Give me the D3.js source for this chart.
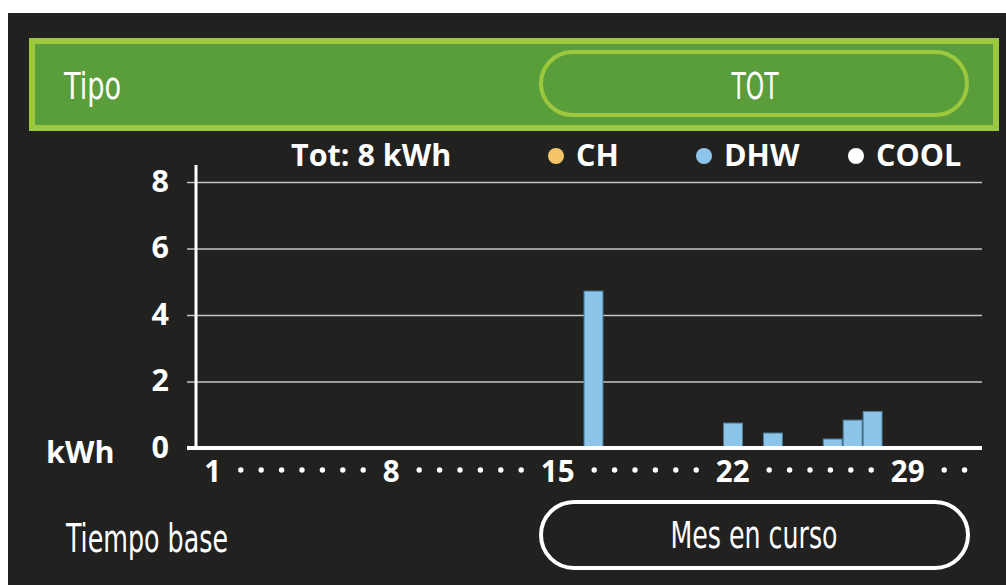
<!DOCTYPE html>
<html>
<head>
<meta charset="utf-8">
<script src="https://cdn.jsdelivr.net/npm/d3@7"></script>
<style>
  body { margin: 0; background: #ffffff; }
  .bold { font-family: 'Open Sans', sans-serif; font-weight: 700; fill: #ffffff; }
  .narrow { font-family: 'Liberation Sans Narrow', 'DejaVu Sans Condensed', sans-serif; fill: #ffffff; }
</style>
</head>
<body>
<div id="container"></div>
<script>
// data
var days = d3.range(1, 32);
var chValues   = [0,0,0,0,0,0,0,0,0,0,0,0,0,0,0,0,0,0,0,0,0,0,0,0,0,0,0,0,0,0,0];
var dhwValues  = [0,0,0,0,0,0,0,0,0,0,0,0,0,0,0,4.72,0,0,0,0,0,0,0.75,0,0.45,0,0,0.27,0.84,1.1,0];
var coolValues = [0,0,0,0,0,0,0,0,0,0,0,0,0,0,0,0,0,0,0,0,0,0,0,0,0,0,0,0,0,0,0];
var seriesNames = ['CH', 'DHW', 'COOL'];
var seriesColors = ['#f6c468', '#8cc4ea', '#ffffff'];
var yTicks = [0, 2, 4, 6, 8];
var xLabels = ['1', '8', '15', '22', '29'];
var dotsAfter = [7, 6, 6, 6, 2];
var totalText = 'Tot: 8 kWh';
var typeLabel = 'Tipo', typeValue = 'TOT';
var timeLabel = 'Tiempo base', timeValue = 'Mes en curso';

var svgWidth = 1006,
    svgHeight = 585,
    svg = d3.select('#container').append('svg').attr('width', svgWidth).attr('height', svgHeight).style('display', 'block'),
    margin = { top: 182, right: 24, bottom: 137, left: 196 },
    width = svgWidth - margin.left - margin.right,
    height = svgHeight - margin.top - margin.bottom;

// panel background
svg.append('rect').attr('x', 8).attr('y', 13).attr('width', svgWidth - 8).attr('height', svgHeight - 13).attr('fill', '#21211f');

// header "Tipo"
svg.append('rect').attr('x', 32).attr('y', 41).attr('width', 964).attr('height', 87)
  .attr('fill', '#5a9e3b').attr('stroke', '#9cc83e').attr('stroke-width', 6);
svg.append('text').attr('class', 'narrow').attr('x', 64).attr('y', 99)
  .attr('font-size', 38).attr('textLength', 57).attr('lengthAdjust', 'spacingAndGlyphs').text(typeLabel);
svg.append('rect').attr('x', 541).attr('y', 52).attr('width', 426).attr('height', 63).attr('rx', 31.5)
  .attr('fill', 'none').attr('stroke', '#9cc83e').attr('stroke-width', 4);
svg.append('text').attr('class', 'narrow').attr('x', 755).attr('y', 99).attr('text-anchor', 'middle')
  .attr('font-size', 38).attr('textLength', 47).attr('lengthAdjust', 'spacingAndGlyphs').text(typeValue);

// footer "Tiempo base"
svg.append('text').attr('class', 'narrow').attr('x', 66).attr('y', 552)
  .attr('font-size', 39).attr('textLength', 162).attr('lengthAdjust', 'spacingAndGlyphs').text(timeLabel);
svg.append('rect').attr('x', 541).attr('y', 502).attr('width', 427).attr('height', 66).attr('rx', 33)
  .attr('fill', 'none').attr('stroke', '#ffffff').attr('stroke-width', 4);
svg.append('text').attr('class', 'narrow').attr('x', 754).attr('y', 548).attr('text-anchor', 'middle')
  .attr('font-size', 37).attr('textLength', 167).attr('lengthAdjust', 'spacingAndGlyphs').text(timeValue);

var g = svg.append('g').attr('transform', 'translate(' + margin.left + ',' + margin.top + ')');

var x = d3.scaleBand().domain(days).range([89, 706]).paddingInner(0.05);
var y = d3.scaleLinear().domain([0, 8]).range([height, 0]);

// gridlines + y labels
var yAxis = g.append('g').attr('class', 'axis axis-y')
  .attr('transform', 'translate(-9,0)')
  .call(d3.axisLeft(y).tickValues(yTicks).tickSizeInner(-(width + 9)).tickSizeOuter(0).tickPadding(18));
yAxis.select('.domain').remove();
yAxis.selectAll('line').attr('stroke', '#c4c4c4').attr('stroke-width', 1.5);
yAxis.selectAll('text').attr('class', 'bold').attr('font-size', 30.5).attr('fill', '#ffffff').attr('dy', '0.3em');

// stacked bars
var table = days.map(function(d, i) { return { day: d, CH: chValues[i], DHW: dhwValues[i], COOL: coolValues[i] }; });
var stacked = d3.stack().keys(seriesNames)(table);

g.selectAll('.series')
  .data(stacked)
  .enter().append('g')
    .attr('class', 'series')
    .attr('fill', function(d, i) { return seriesColors[i]; })
  .selectAll('rect')
  .data(function(d) { return d.filter(function(p) { return p[1] - p[0] > 0; }); })
  .enter().append('rect')
    .attr('x', function(d) { return x(d.data.day); })
    .attr('y', function(d) { return y(d[1]); })
    .attr('width', x.bandwidth())
    .attr('height', function(d) { return y(d[0]) - y(d[1]); })
    .attr('stroke', '#4f7d99')
    .attr('stroke-width', 1);

// axes lines
g.append('line').attr('x1', -9).attr('x2', width).attr('y1', y(0)).attr('y2', y(0))
  .attr('stroke', '#ffffff').attr('stroke-width', 4);
g.append('line').attr('x1', 0).attr('x2', 0).attr('y1', y(8) - 17).attr('y2', y(0))
  .attr('stroke', '#ffffff').attr('stroke-width', 3);

g.append('text').attr('class', 'bold').attr('x', -150).attr('y', y(0) + 15)
  .attr('font-size', 30.5).text('kWh');

// x labels: day numbers with dots in between
var tokens = [];
xLabels.forEach(function(l, i) {
  tokens.push({ label: l });
  for (var k = 0; k < dotsAfter[i]; k++) tokens.push({ label: null });
});
var cursor = -1;
tokens.forEach(function(t) {
  var w = t.label == null ? 20.4 : (t.label.length === 1 ? 35.6 : 52.6);
  t.cx = cursor + w / 2;
  cursor += w;
});
var xl = g.append('g').attr('class', 'axis axis-x').attr('transform', 'translate(0,' + height + ')');
xl.selectAll('text').data(tokens.filter(function(t) { return t.label != null; }))
  .enter().append('text')
    .attr('class', 'bold')
    .attr('x', function(d) { return d.cx; })
    .attr('y', 34)
    .attr('text-anchor', 'middle')
    .attr('font-size', 29.5)
    .text(function(d) { return d.label; });
xl.selectAll('circle').data(tokens.filter(function(t) { return t.label == null; }))
  .enter().append('circle')
    .attr('cx', function(d) { return d.cx; })
    .attr('cy', 22)
    .attr('r', 2.7)
    .attr('fill', '#ffffff');

// legend
svg.append('text').attr('class', 'bold').attr('x', 291).attr('y', 166).attr('font-size', 30.5).text(totalText);
var legendX = [556, 704, 856];
var lg = svg.selectAll('.legend').data(seriesNames).enter().append('g').attr('class', 'legend')
  .attr('transform', function(d, i) { return 'translate(' + legendX[i] + ',156)'; });
lg.append('circle').attr('r', 8).attr('fill', function(d, i) { return seriesColors[i]; });
lg.append('text').attr('class', 'bold').attr('x', 20).attr('y', 10).attr('font-size', 30.5).text(function(d) { return d; });
</script>
</body>
</html>
